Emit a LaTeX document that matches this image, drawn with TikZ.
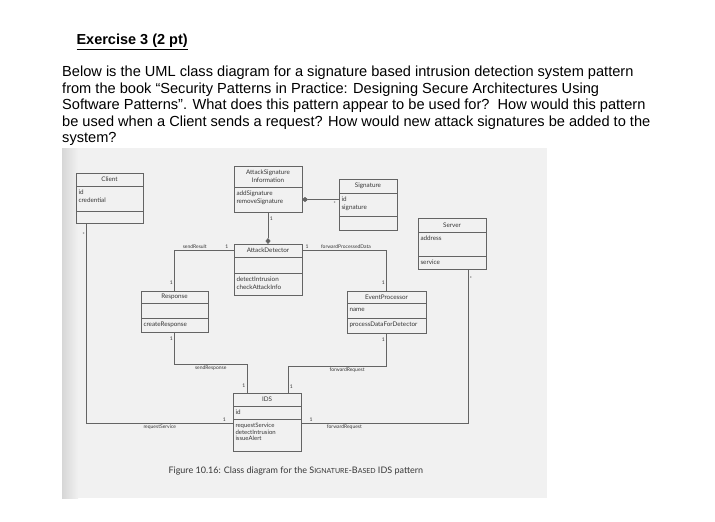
\documentclass[tikz,border=0pt]{standalone}
\usepackage{fontspec}
\setmainfont{Liberation Sans}
\newfontfamily\diagfont{Lato}
\usetikzlibrary{positioning, arrows.meta}

\definecolor{scanbg}{RGB}{241,241,241}
\definecolor{linecol}{RGB}{100,100,100}
\definecolor{inkcol}{RGB}{55,55,55}
\newcommand\classfont{\diagfont\fontsize{6.3}{8}\selectfont}

\tikzset{
    head/.style={draw=linecol, line width=0.6pt, text=inkcol, font=\classfont, align=center,
                 inner xsep=2.5pt, inner ysep=0pt, outer sep=0pt},
    body/.style={head, align=left, inner ysep=2pt, text height=6.5pt, text depth=#1},
    assoc/.style={draw=linecol, line width=0.6pt},
    mult/.style={text=inkcol, font=\diagfont\fontsize{5}{6}\selectfont, inner sep=1.5pt},
    role/.style={mult},
}

\begin{document}
\begin{tikzpicture}[x=1pt, y=-1pt]
    \useasboundingbox (0,0) rectangle (715,522);

    % question text
    \node[anchor=west, font=\bfseries\fontsize{14.5}{17}\selectfont] (title) at (73,42) {\underline{Exercise 3 (2 pt)}};
    \node[anchor=north west, align=left, inner sep=0pt, font=\fontsize{14.6}{16.5}\selectfont] (question) at (62,66)
        {Below is the UML class diagram for a signature based intrusion detection system pattern\\
         from the book “Security Patterns in Practice: Designing Secure Architectures Using\\
         Software Patterns”. What does this pattern appear to be used for?\ \ How would this pattern\\
         be used when a Client sends a request? How would new attack signatures be added to the\\
         system?};

    % scanned page
    \fill[scanbg] (62,148) rectangle (547,498);
    \shade[left color=black!16, right color=scanbg] (62,148) rectangle (78,498);

    % classes
    \node[head, text width=62pt, minimum height=13pt, anchor=north west] (client) at (76,173) {Client};
    \node[body=14.5pt, text width=62pt, below=0pt of client] (client-attr) {id\\credential};
    \node[body=1.5pt, text width=62pt, below=0pt of client-attr] (client-ops) {};

    \node[head, text width=63pt, minimum height=21pt, anchor=north west] (asi) at (234,166) {AttackSignature\\Information};
    \node[body=14.5pt, text width=63pt, below=0pt of asi] (asi-ops) {addSignature\\removeSignature};

    \node[head, text width=53pt, minimum height=14pt, anchor=north west] (sig) at (339,179) {Signature};
    \node[body=12.5pt, text width=53pt, below=0pt of sig] (sig-attr) {id\\signature};
    \node[body=3.5pt, text width=53pt, below=0pt of sig-attr] (sig-ops) {};

    \node[head, text width=63pt, minimum height=14pt, anchor=north west] (server) at (418,218) {Server};
    \node[body=13.5pt, text width=63pt, below=0pt of server] (server-attr) {address};
    \node[body=2.5pt, text width=63pt, below=0pt of server-attr] (server-ops) {service};

    \node[head, text width=63pt, minimum height=13pt, anchor=north west] (detector) at (234,244) {AttackDetector};
    \node[body=5.5pt, text width=63pt, below=0pt of detector] (detector-attr) {};
    \node[body=11.5pt, text width=63pt, below=0pt of detector-attr] (detector-ops) {detectIntrusion\\checkAttackInfo};

    \node[head, text width=62pt, minimum height=12pt, anchor=north west] (response) at (141,291) {Response};
    \node[body=4.5pt, text width=62pt, below=0pt of response] (response-attr) {};
    \node[body=3.5pt, text width=62pt, below=0pt of response-attr] (response-ops) {createResponse};

    \node[head, text width=74pt, minimum height=12pt, anchor=north west] (ep) at (347,291) {EventProcessor};
    \node[body=4.5pt, text width=74pt, below=0pt of ep] (ep-attr) {name};
    \node[body=4.5pt, text width=74pt, below=0pt of ep-attr] (ep-ops) {processDataForDetector};

    \node[head, text width=63pt, minimum height=13pt, anchor=north west] (ids) at (233,393) {IDS};
    \node[body=2.5pt, text width=63pt, below=0pt of ids] (ids-attr) {id};
    \node[body=21.5pt, text width=63pt, below=0pt of ids-attr, font=\diagfont\fontsize{6}{6.5}\selectfont] (ids-ops)
        {requestService\\detectIntrusion\\issueAlert};

    % associations
    \draw[assoc, -{Diamond[length=6pt, width=5pt]}] (asi-ops.south) -- node[mult, pos=0.2, right]{1} (detector.north);
    \draw[assoc, {Diamond[length=6pt, width=5pt]}-] (asi-ops.east) -- node[mult, pos=0.88, below]{*} (asi-ops.east -| sig-attr.west);

    \draw[assoc] (detector.west) -| node[mult, pos=0.06, above]{1} node[role, pos=0.33, above]{sendResult}
        node[mult, pos=0.9, left]{1} (response.north);
    \draw[assoc] (detector.east) -| node[mult, pos=0.03, above]{1} node[role, pos=0.26, above]{forwardProcessedData}
        node[mult, pos=0.9, left]{1} (ep.north);

    \draw[assoc] (response-ops.south) -- node[mult, pos=0.2, left]{1} ++(0,32)
        -| node[role, pos=0.25, below]{sendResponse} node[mult, pos=0.88, left]{1} ([xshift=-20pt]ids.north);
    \draw[assoc] (ep-ops.south) -- node[mult, pos=0.2, left]{1} ++(0,33)
        -| node[role, pos=0.2, below]{forwardRequest} node[mult, pos=0.88, right]{1} ([xshift=21pt]ids.north);

    \draw[assoc] ([xshift=-23pt]client-ops.south) |- node[mult, pos=0.03, left]{*} node[role, pos=0.75, below]{requestService}
        node[mult, pos=0.97, above]{1} ([yshift=-4pt]ids-ops.north west);
    \draw[assoc] ([yshift=-4pt]ids-ops.north east) -| node[mult, pos=0.03, above]{1} node[role, pos=0.13, below]{forwardRequest}
        node[mult, pos=0.97, right]{*} ([xshift=16pt]server-ops.south);

    % caption
    \node[anchor=west, text=inkcol, font=\diagfont\fontsize{9}{11}\selectfont] (caption) at (165,471)
        {Figure 10.16: Class diagram for the S{\fontsize{7}{8}\selectfont IGNATURE}-B{\fontsize{7}{8}\selectfont ASED} IDS pattern};
\end{tikzpicture}
\end{document}
